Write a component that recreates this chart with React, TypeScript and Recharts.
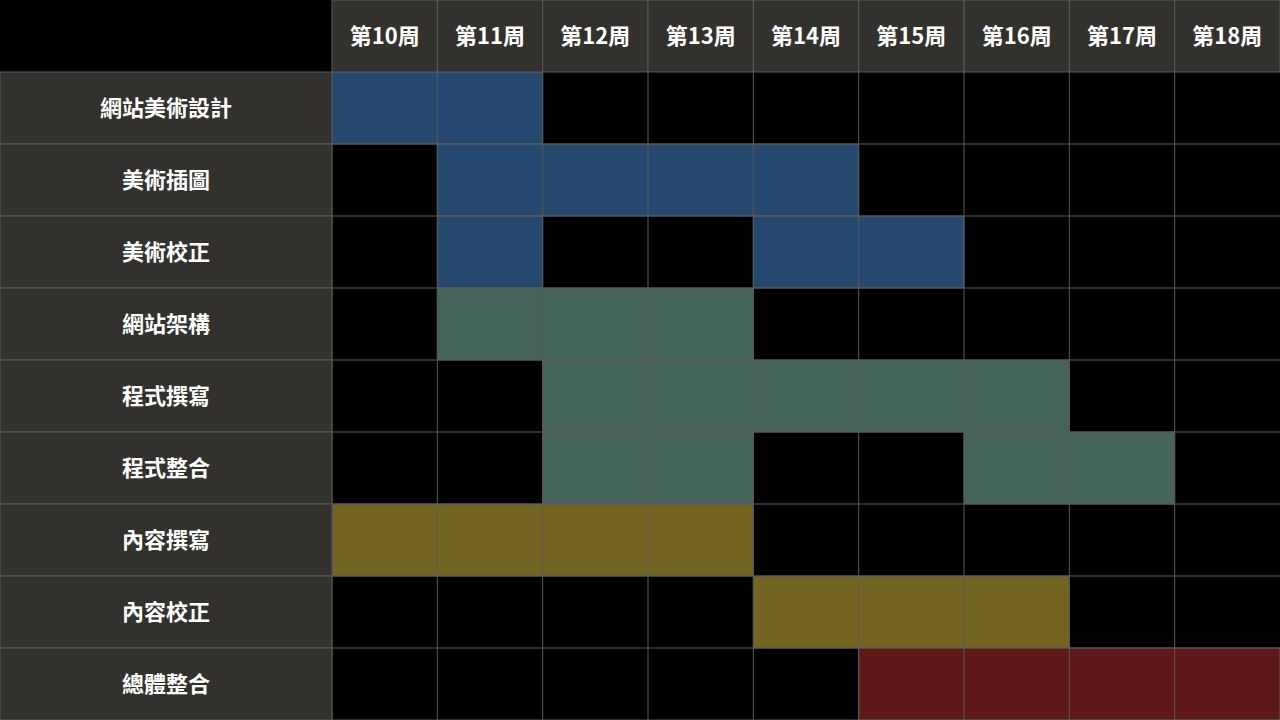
import { BarChart, Bar, XAxis, YAxis, Cell, ReferenceLine } from "recharts";

const tasks = ["網站美術設計", "美術插圖", "美術校正", "網站架構", "程式撰寫", "程式整合", "內容撰寫", "內容校正", "總體整合"];
const weeks = [10, 11, 12, 13, 14, 15, 16, 17, 18];
// first segment: start week and length in weeks
const seg1Start = [10, 11, 11, 11, 12, 12, 10, 14, 15];
const seg1Len = [2, 4, 1, 3, 5, 2, 4, 3, 4];
// second segment: start week (0 = none) and length
const seg2Start = [0, 0, 14, 0, 0, 16, 0, 0, 0];
const seg2Len = [0, 0, 2, 0, 0, 2, 0, 0, 0];
const rowColors = ["#264a6f", "#264a6f", "#264a6f", "#44635a", "#44635a", "#44635a", "#736422", "#736422", "#5e1818"];

const firstWeek = weeks[0];
const data = tasks.map((task, i) => {
  const off1 = seg1Start[i] - firstWeek;
  const gap = seg2Len[i] ? seg2Start[i] - (seg1Start[i] + seg1Len[i]) : 0;
  return { task, off1, len1: seg1Len[i], gap, len2: seg2Len[i] };
});

const W = 1280;
const H = 720;
const LABEL_W = 332;
const HEAD_H = 72;
const COL_W = (W - LABEL_W) / weeks.length;
const ROW_H = (H - HEAD_H) / tasks.length;
const GRID = "#5a5a5a";
const PANEL = "#33312d";
const FONT = "'Noto Sans CJK TC', sans-serif";

function HeadTick(props: any) {
  const { x, payload } = props;
  return (
    <g>
      <rect x={x - COL_W / 2} y={0} width={COL_W} height={HEAD_H} fill={PANEL} stroke={GRID} />
      <text x={x} y={HEAD_H / 2 + 8} textAnchor="middle" fill="#fff" fontSize={22} fontWeight="bold" fontFamily={FONT}>
        {`第${payload.value + firstWeek - 0.5}周`}
      </text>
    </g>
  );
}

function RowTick(props: any) {
  const { y, payload } = props;
  return (
    <g>
      <rect x={0} y={y - ROW_H / 2} width={LABEL_W} height={ROW_H} fill={PANEL} stroke={GRID} />
      <line x1={LABEL_W} x2={W} y1={y + ROW_H / 2} y2={y + ROW_H / 2} stroke={GRID} />
      <text x={LABEL_W / 2} y={y + 8} textAnchor="middle" fill="#fff" fontSize={22} fontWeight="bold" fontFamily={FONT}>
        {payload.value}
      </text>
    </g>
  );
}

export default function App() {
  return (
    <div style={{ position: "absolute", left: 0, top: 0, width: W, height: H, background: "#000" }}>
      <BarChart layout="vertical" width={W} height={H} data={data} margin={{ top: 0, right: 0, bottom: 0, left: 0 }} barCategoryGap={0}>
        <XAxis
          type="number"
          orientation="top"
          domain={[0, weeks.length]}
          ticks={weeks.map((_, i) => i + 0.5)}
          height={HEAD_H}
          axisLine={false}
          tickLine={false}
          tick={<HeadTick />}
          interval={0}
        />
        <YAxis type="category" dataKey="task" width={LABEL_W} axisLine={false} tickLine={false} tick={<RowTick />} interval={0} />
        <Bar dataKey="off1" stackId="s" fill="transparent" isAnimationActive={false} />
        <Bar dataKey="len1" stackId="s" stroke={GRID} isAnimationActive={false}>
          {data.map((_, i) => <Cell key={i} fill={rowColors[i]} />)}
        </Bar>
        <Bar dataKey="gap" stackId="s" fill="transparent" isAnimationActive={false} />
        <Bar dataKey="len2" stackId="s" stroke={GRID} isAnimationActive={false}>
          {data.map((_, i) => <Cell key={i} fill={rowColors[i]} />)}
        </Bar>
        {weeks.map((_, i) => (
          <ReferenceLine key={i} x={i} stroke={GRID} />
        ))}
        {tasks.map((t) => (
          <ReferenceLine key={t} y={t} stroke="none" />
        ))}
      </BarChart>
    </div>
  );
}
